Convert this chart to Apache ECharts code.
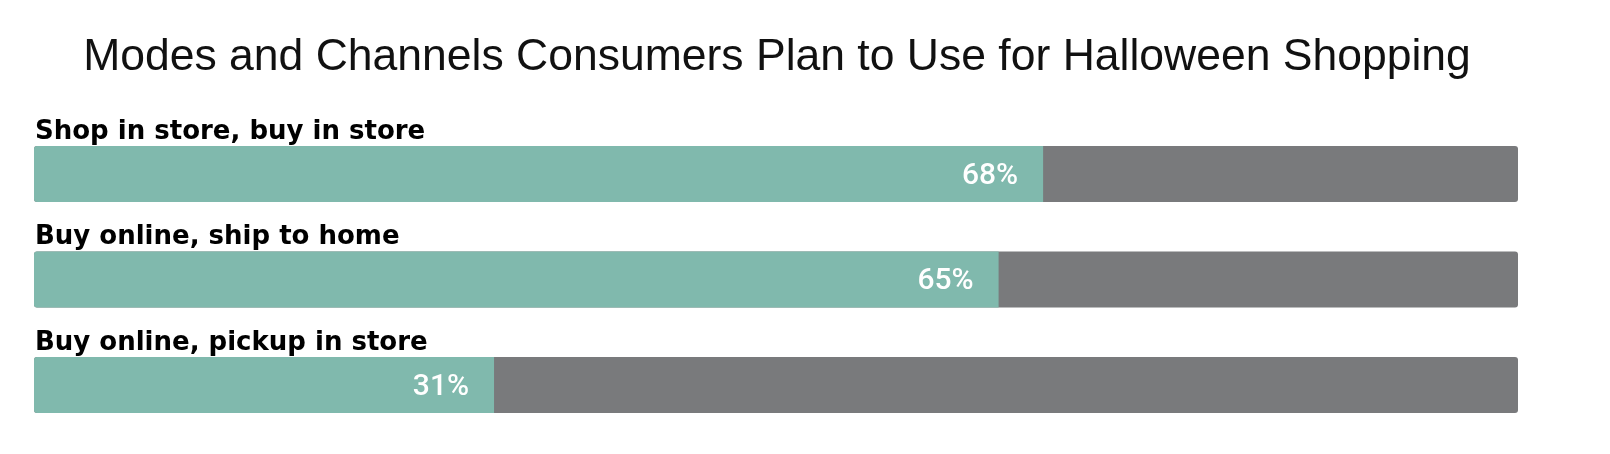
<!DOCTYPE html>
<html>
<head>
<meta charset="utf-8">
<script src="https://cdn.jsdelivr.net/npm/echarts@6/dist/echarts.min.js"></script>
<style>
html,body{margin:0;padding:0;background:#fff;}
#chart{width:1610px;height:454px;}
</style>
</head>
<body>
<div id="chart"></div>
<script>
var titleText = 'Modes and Channels Consumers Plan to Use for Halloween Shopping';
var categories = ['Shop in store, buy in store', 'Buy online, ship to home', 'Buy online, pickup in store'];
var values = [68, 65, 31];
var axisMax = 100;

var chart = echarts.init(document.getElementById('chart'), null, {renderer: 'canvas'});
chart.setOption({
  animation: false,
  backgroundColor: '#ffffff',
  title: {
    text: titleText,
    left: 772,
    top: 30,
    textAlign: 'center',
    textStyle: {
      fontFamily: 'Liberation Sans',
      fontSize: 44.5,
      fontWeight: 'normal',
      color: '#111111'
    }
  },
  grid: {left: 34, right: 92, top: 121.25, height: 316.5, containLabel: false},
  xAxis: {
    type: 'value',
    min: 0,
    max: axisMax,
    show: false
  },
  yAxis: {
    type: 'category',
    data: categories,
    inverse: true,
    show: false
  },
  series: [{
    type: 'bar',
    data: values,
    barWidth: 56,
    showBackground: true,
    backgroundStyle: {color: '#797a7c', borderRadius: 3},
    itemStyle: {color: '#80b9ad', borderRadius: [3, 0, 0, 3]},
    label: {
      show: true,
      position: 'insideRight',
      distance: 25,
      offset: [0, 2],
      formatter: '{c}%',
      color: '#ffffff',
      fontFamily: 'Roboto',
      fontWeight: 500,
      fontSize: 30
    },
    z: 2
  }, {
    type: 'bar',
    data: values,
    barWidth: 56,
    barGap: '-100%',
    itemStyle: {color: 'rgba(0,0,0,0)'},
    silent: true,
    label: {
      show: true,
      position: [1, -14],
      align: 'left',
      verticalAlign: 'middle',
      formatter: '{b}',
      fontFamily: 'DejaVu Sans',
      fontWeight: 'bold',
      fontSize: 26,
      color: '#000000'
    },
    z: 3
  }]
});
</script>
</body>
</html>
